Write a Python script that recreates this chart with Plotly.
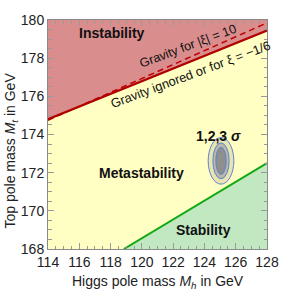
import plotly.graph_objects as go

# Boundary lines (Higgs mass in GeV vs top mass in GeV)
mh_instab = [114, 128]
mt_instab_noGrav = [174.8, 179.45]
mt_instab_grav10 = [174.75, 179.85]
mh_stab = [118.85, 128]
mt_stab = [168, 172.5]

# Measurement ellipses (center, 1/2/3 sigma half-widths)
mh_center = 125.06
mt_center = 172.62
mh_halfwidth = [0.33, 0.52, 0.82]
mt_halfwidth = [0.71, 0.94, 1.22]
ellipse_fill = ["#8f8f8f", "#bbb9a6", "#e8e4b4"]

x_range = [114, 128]
y_range = [168, 180]

fig = go.Figure()

# Instability region (above red line)
fig.add_trace(go.Scatter(
    x=[mh_instab[0], mh_instab[1], x_range[1], x_range[0]],
    y=[mt_instab_noGrav[0], mt_instab_noGrav[1], y_range[1], y_range[1]],
    fill="toself", fillcolor="#d98d8d", line=dict(width=0), mode="lines",
    hoverinfo="skip", showlegend=False))
# Stability region (below green line)
fig.add_trace(go.Scatter(
    x=[mh_stab[0], mh_stab[1], x_range[1]],
    y=[mt_stab[0], mt_stab[1], y_range[0]],
    fill="toself", fillcolor="#c2e8c2", line=dict(width=0), mode="lines",
    hoverinfo="skip", showlegend=False))
# Lines
fig.add_trace(go.Scatter(x=mh_instab, y=mt_instab_grav10, mode="lines",
                         line=dict(color="#c00000", width=1.5, dash="6px,4px"),
                         showlegend=False))
fig.add_trace(go.Scatter(x=mh_instab, y=mt_instab_noGrav, mode="lines",
                         line=dict(color="#b00000", width=2.2), showlegend=False))
fig.add_trace(go.Scatter(x=mh_stab, y=mt_stab, mode="lines",
                         line=dict(color="#12a812", width=2), showlegend=False))

# Ellipses: draw outer first
for i in reversed(range(3)):
    fig.add_shape(type="circle", xref="x", yref="y",
                  x0=mh_center - mh_halfwidth[i], x1=mh_center + mh_halfwidth[i],
                  y0=mt_center - mt_halfwidth[i], y1=mt_center + mt_halfwidth[i],
                  fillcolor=ellipse_fill[i], line=dict(color="#5b83cc", width=1))

font = "Liberation Sans, Arial, sans-serif"
axis_common = dict(
    showgrid=False, zeroline=False, showline=True, linecolor="#8a8a8a", linewidth=1,
    mirror="allticks", ticks="inside", ticklen=6, tickcolor="#9a9a9a", dtick=2,
    tickfont=dict(family=font, size=14, color="#222"),
    minor=dict(dtick=0.5, ticks="inside", ticklen=3.5, tickcolor="#9a9a9a"),
)
fig.update_xaxes(range=x_range, **axis_common)
fig.update_yaxes(range=y_range, **axis_common)

fig.update_layout(
    width=291, height=290,
    margin=dict(l=48, r=12, t=18, b=41),
    plot_bgcolor="#ffffc4", paper_bgcolor="white",
    font=dict(family=font, size=14, color="#222"),
    showlegend=False,
)

def add_text(x, y, text, size=14, angle=0, color="#111"):
    fig.add_annotation(x=x, y=y, xref="x", yref="y", text=text, showarrow=False,
                       textangle=angle, font=dict(family=font, size=size, color=color),
                       xanchor="center", yanchor="middle")

add_text(118.1, 179.3, "<b>Instability</b>", 14)
add_text(119.97, 172.0, "<b>Metastability</b>", 14)
add_text(123.97, 169.0, "<b>Stability</b>", 14)
add_text(124.9, 173.92, "<b>1,2,3 <i>σ</i></b>", 14)
add_text(122.97, 178.62, "Gravity for |ξ| = 10", 12.6, -20.5)
add_text(123.1, 177.12, "Gravity ignored or for ξ = −1/6", 12.8, -20.5)

fig.add_annotation(x=0.5, xref="paper", y=-0.143, yref="paper", yanchor="middle",
                   text="Higgs pole mass <i>M<sub>h</sub></i> in GeV", showarrow=False,
                   font=dict(family=font, size=14, color="#222"))
fig.add_annotation(x=-0.169, xref="paper", y=0.43, yref="paper", xanchor="center",
                   yanchor="middle",
                   text="Top pole mass <i>M<sub>t</sub></i> in GeV", showarrow=False,
                   textangle=-90, font=dict(family=font, size=14, color="#222"))

fig.write_html("out.html", config={"displayModeBar": False},
               post_script="document.body.style.margin='0';")
